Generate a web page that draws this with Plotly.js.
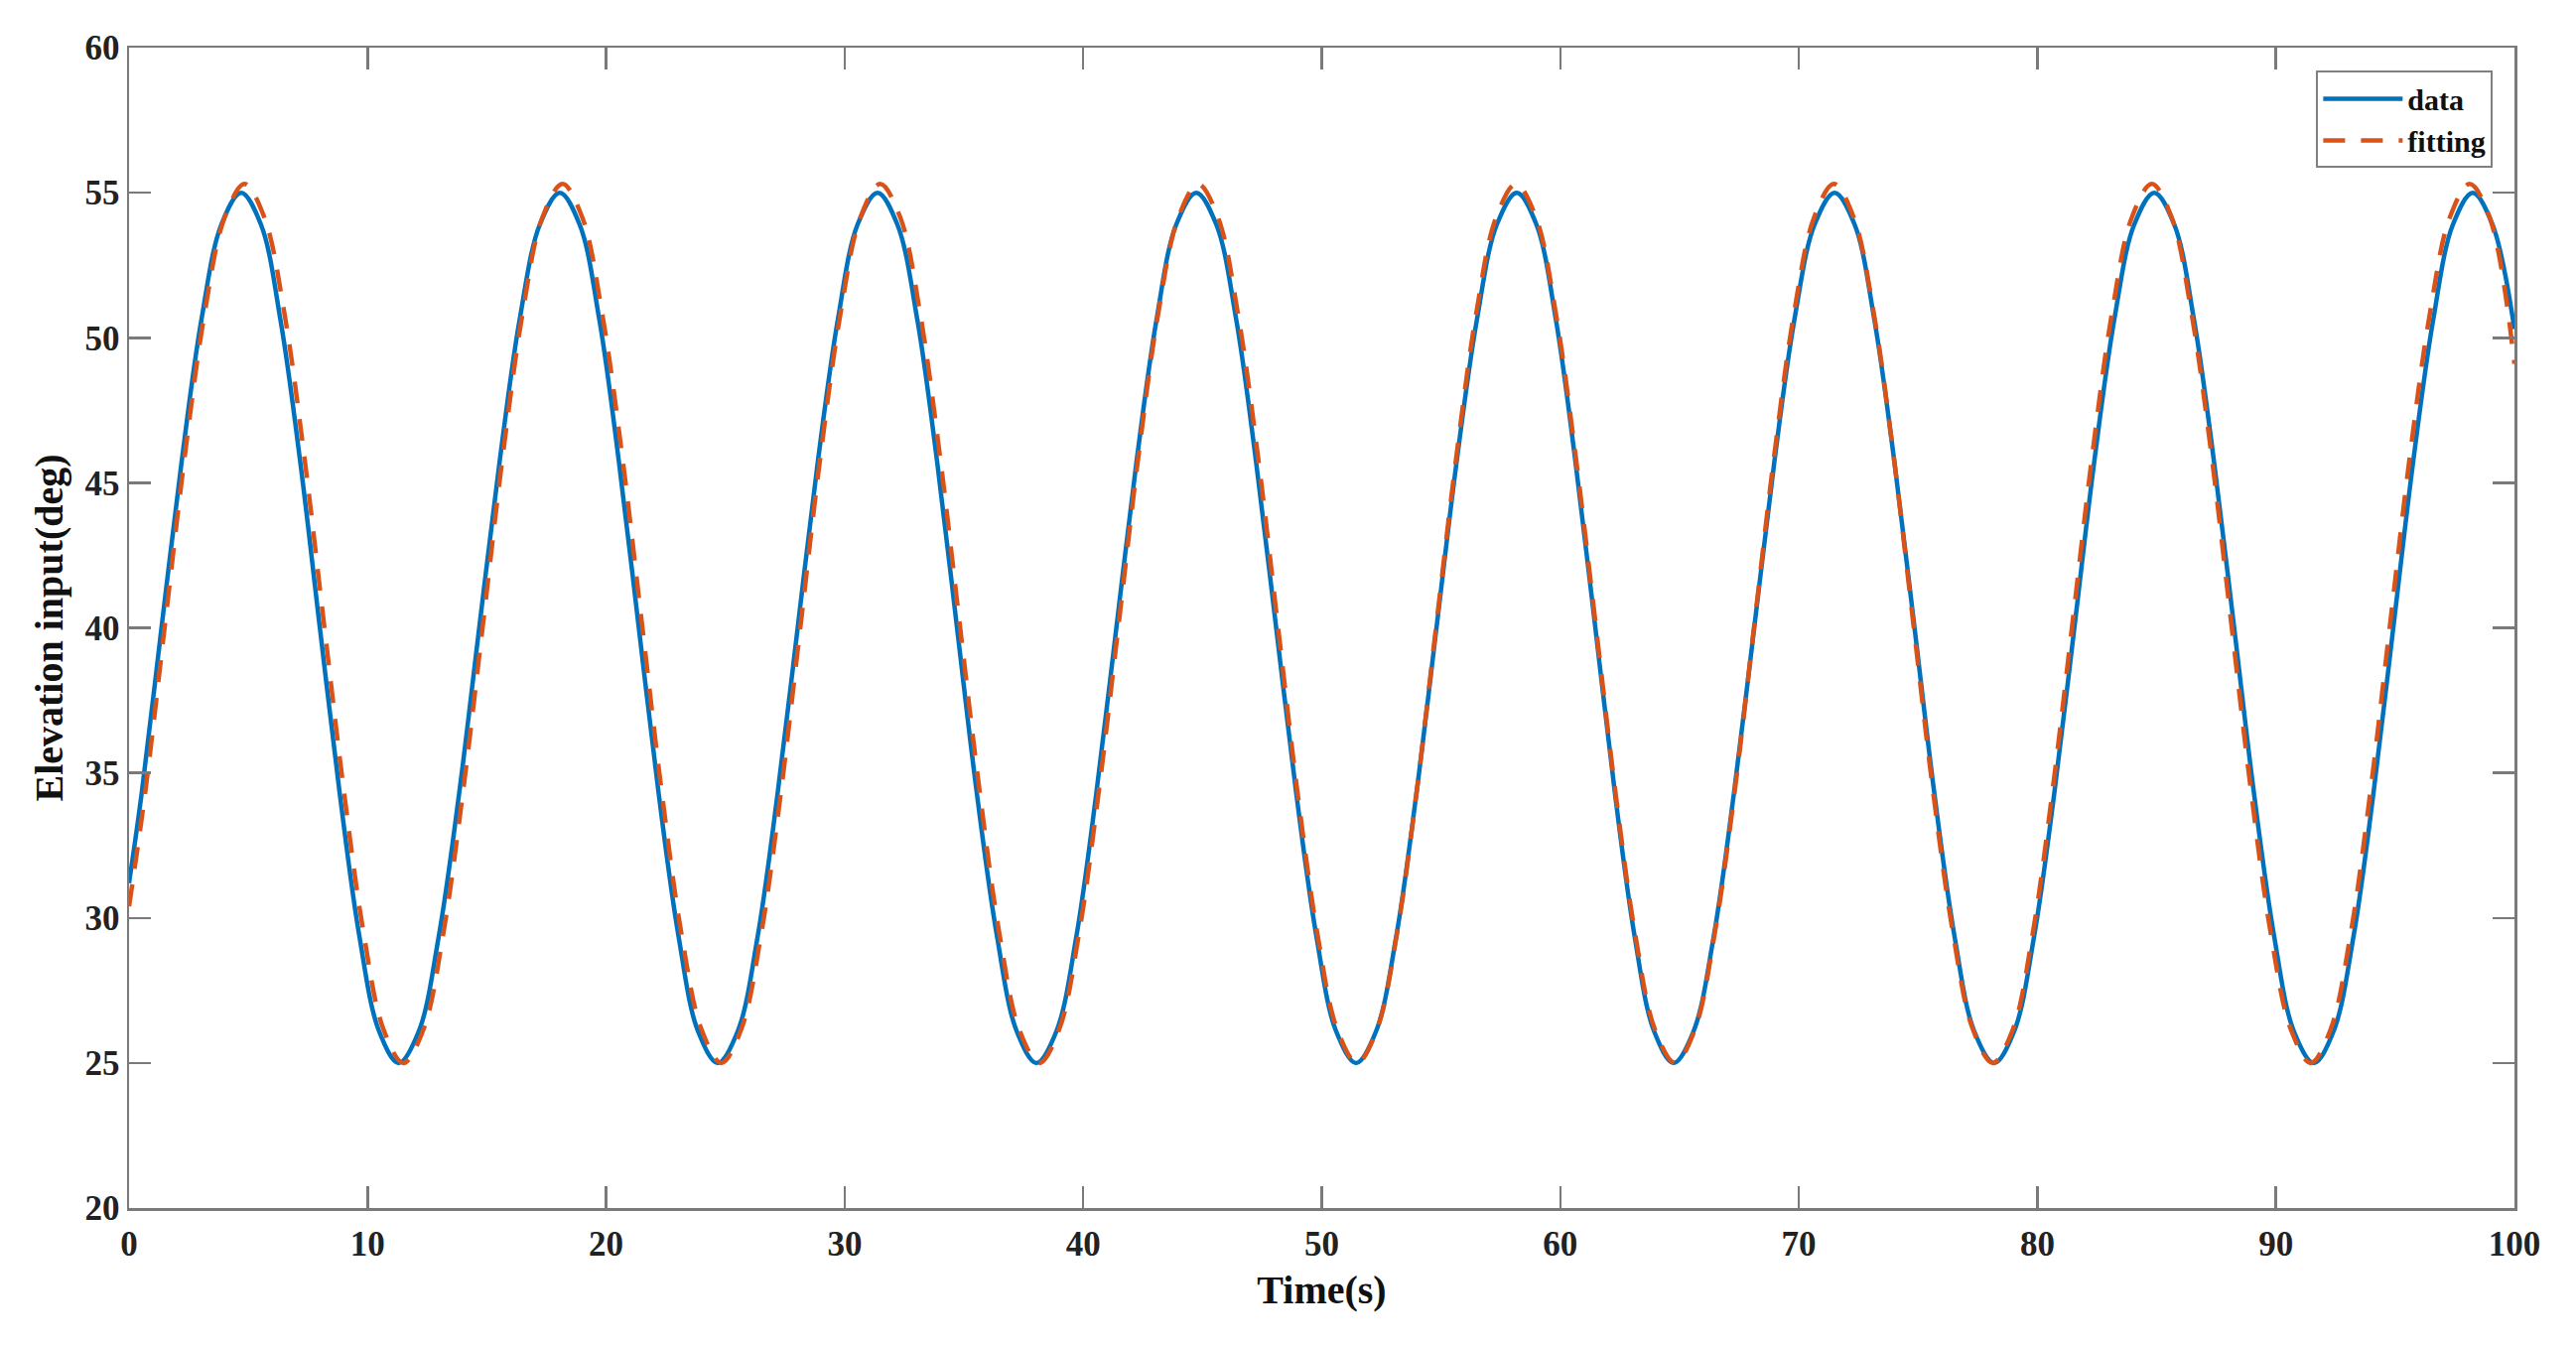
<!DOCTYPE html>
<html>
<head>
<meta charset="utf-8">
<script src="https://cdn.plot.ly/plotly-3.0.1.min.js"></script>
<style>
html, body { margin: 0; padding: 0; background: #ffffff; }
#chart { width: 2595px; height: 1355px; }
</style>
</head>
<body>
<div id="chart"></div>
<script>
// Time samples (s) and elevation input (deg)
const dataT = [0, 0.53, 1.36, 2.20, 3.03, 3.87, 4.70,
  5.53, 6.35, 7.18, 8.00, 8.83, 9.65, 10.48, 11.30,
  12.15, 12.99, 13.84, 14.68, 15.53, 16.37, 17.22, 18.06,
  18.89, 19.72, 20.54, 21.37, 22.20, 23.03, 23.85, 24.68,
  25.52, 26.36, 27.19, 28.03, 28.87, 29.71, 30.54, 31.38,
  32.21, 33.05, 33.88, 34.71, 35.54, 36.38, 37.21, 38.04,
  38.88, 39.72, 40.55, 41.39, 42.23, 43.07, 43.90, 44.74,
  45.58, 46.42, 47.25, 48.09, 48.93, 49.77, 50.60, 51.44,
  52.28, 53.13, 53.97, 54.81, 55.65, 56.50, 57.34, 58.18,
  59.00, 59.82, 60.64, 61.47, 62.29, 63.11, 63.93, 64.75,
  65.59, 66.44, 67.28, 68.13, 68.97, 69.81, 70.66, 71.50,
  72.34, 73.17, 74.01, 74.85, 75.68, 76.52, 77.35, 78.19,
  79.03, 79.87, 80.71, 81.55, 82.38, 83.22, 84.06, 84.90,
  85.74, 86.57, 87.41, 88.25, 89.08, 89.92, 90.75, 91.59,
  92.42, 93.26, 94.09, 94.92, 95.75, 96.59, 97.42, 98.25,
  99.08, 100];
const dataY = [31.2, 34.3, 40.0, 45.7, 50.6, 53.9, 55.0,
  53.9, 50.6, 45.7, 40.0, 34.3, 29.4, 26.1, 25.0,
  26.1, 29.4, 34.3, 40.0, 45.7, 50.6, 53.9, 55.0,
  53.9, 50.6, 45.7, 40.0, 34.3, 29.4, 26.1, 25.0,
  26.1, 29.4, 34.3, 40.0, 45.7, 50.6, 53.9, 55.0,
  53.9, 50.6, 45.7, 40.0, 34.3, 29.4, 26.1, 25.0,
  26.1, 29.4, 34.3, 40.0, 45.7, 50.6, 53.9, 55.0,
  53.9, 50.6, 45.7, 40.0, 34.3, 29.4, 26.1, 25.0,
  26.1, 29.4, 34.3, 40.0, 45.7, 50.6, 53.9, 55.0,
  53.9, 50.6, 45.7, 40.0, 34.3, 29.4, 26.1, 25.0,
  26.1, 29.4, 34.3, 40.0, 45.7, 50.6, 53.9, 55.0,
  53.9, 50.6, 45.7, 40.0, 34.3, 29.4, 26.1, 25.0,
  26.1, 29.4, 34.3, 40.0, 45.7, 50.6, 53.9, 55.0,
  53.9, 50.6, 45.7, 40.0, 34.3, 29.4, 26.1, 25.0,
  26.1, 29.4, 34.3, 40.0, 45.7, 50.6, 53.9, 55.0,
  53.9, 50.3];

const fitT = [0, 0.68, 1.51, 2.34, 3.17, 4.01, 4.84,
  5.67, 6.51, 7.34, 8.17, 9.01, 9.84, 10.67, 11.50,
  12.34, 13.17, 14.00, 14.84, 15.67, 16.50, 17.33, 18.17,
  19.00, 19.83, 20.67, 21.50, 22.33, 23.16, 24.00, 24.83,
  25.66, 26.50, 27.33, 28.16, 28.99, 29.83, 30.66, 31.49,
  32.33, 33.16, 33.99, 34.82, 35.66, 36.49, 37.32, 38.16,
  38.99, 39.82, 40.65, 41.49, 42.32, 43.15, 43.99, 44.82,
  45.65, 46.48, 47.32, 48.15, 48.98, 49.82, 50.65, 51.48,
  52.31, 53.15, 53.98, 54.81, 55.65, 56.48, 57.31, 58.14,
  58.98, 59.81, 60.64, 61.48, 62.31, 63.14, 63.97, 64.81,
  65.64, 66.47, 67.31, 68.14, 68.97, 69.80, 70.64, 71.47,
  72.30, 73.14, 73.97, 74.80, 75.63, 76.47, 77.30, 78.13,
  78.97, 79.80, 80.63, 81.47, 82.30, 83.13, 83.96, 84.80,
  85.63, 86.46, 87.30, 88.13, 88.96, 89.79, 90.63, 91.46,
  92.29, 93.13, 93.96, 94.79, 95.62, 96.46, 97.29, 98.12,
  98.96, 100];
const fitY = [30.4, 34.35, 40.15, 45.95, 50.86, 54.15, 55.3,
  54.15, 50.86, 45.95, 40.15, 34.35, 29.44, 26.15, 25.0,
  26.15, 29.44, 34.35, 40.15, 45.95, 50.86, 54.15, 55.3,
  54.15, 50.86, 45.95, 40.15, 34.35, 29.44, 26.15, 25.0,
  26.15, 29.44, 34.35, 40.15, 45.95, 50.86, 54.15, 55.3,
  54.15, 50.86, 45.95, 40.15, 34.35, 29.44, 26.15, 25.0,
  26.15, 29.44, 34.35, 40.15, 45.95, 50.86, 54.15, 55.3,
  54.15, 50.86, 45.95, 40.15, 34.35, 29.44, 26.15, 25.0,
  26.15, 29.44, 34.35, 40.15, 45.95, 50.86, 54.15, 55.3,
  54.15, 50.86, 45.95, 40.15, 34.35, 29.44, 26.15, 25.0,
  26.15, 29.44, 34.35, 40.15, 45.95, 50.86, 54.15, 55.3,
  54.15, 50.86, 45.95, 40.15, 34.35, 29.44, 26.15, 25.0,
  26.15, 29.44, 34.35, 40.15, 45.95, 50.86, 54.15, 55.3,
  54.15, 50.86, 45.95, 40.15, 34.35, 29.44, 26.15, 25.0,
  26.15, 29.44, 34.35, 40.15, 45.95, 50.86, 54.15, 55.3,
  54.15, 49.1];

const xTicks = [0, 10, 20, 30, 40, 50, 60, 70, 80, 90, 100];
const yTicks = [20, 25, 30, 35, 40, 45, 50, 55, 60];

const serif = "Liberation Serif, Times New Roman, serif";
const axisGray = "#7a7a7a";

const traces = [
  {
    x: dataT, y: dataY, name: "data", type: "scatter", mode: "lines",
    line: { color: "#0072BD", width: 4.5, shape: "spline", smoothing: 1.0 }
  },
  {
    x: fitT, y: fitY, name: "fitting", type: "scatter", mode: "lines",
    line: { color: "#D95319", width: 4.5, dash: "22px,16px", shape: "spline", smoothing: 1.0 }
  }
];

const axisCommon = {
  showgrid: false, zeroline: false,
  showline: true, linecolor: axisGray, linewidth: 2.5, mirror: "ticks",
  ticks: "inside", ticklen: 22, tickwidth: 2.5, tickcolor: axisGray,
  tickfont: { family: serif, size: 35, color: "#222222", weight: "bold" },
  tickmode: "array"
};

const layout = {
  width: 2595, height: 1355,
  margin: { l: 130, r: 62, t: 48, b: 138 },
  paper_bgcolor: "#ffffff", plot_bgcolor: "#ffffff",
  showlegend: true,
  legend: {
    x: 0.991, y: 0.980, xanchor: "right", yanchor: "top",
    bgcolor: "#ffffff", bordercolor: "#808080", borderwidth: 2,
    font: { family: serif, size: 30, color: "#111111", weight: "bold" },
    itemwidth: 80, tracegroupgap: 0
  },
  xaxis: Object.assign({}, axisCommon, {
    range: [0, 100], tickvals: xTicks, ticktext: xTicks.map(String),
    ticklabelstandoff: 3,
    title: { text: "Time(s)", font: { family: serif, size: 40, color: "#111111", weight: "bold" }, standoff: 14 }
  }),
  yaxis: Object.assign({}, axisCommon, {
    range: [20, 60], tickvals: yTicks, ticktext: yTicks.map(String),
    title: { text: "Elevation input(deg)", font: { family: serif, size: 40, color: "#111111", weight: "bold" }, standoff: 10 }
  })
};

Plotly.newPlot("chart", traces, layout, { displayModeBar: false, staticPlot: true });
</script>
</body>
</html>
